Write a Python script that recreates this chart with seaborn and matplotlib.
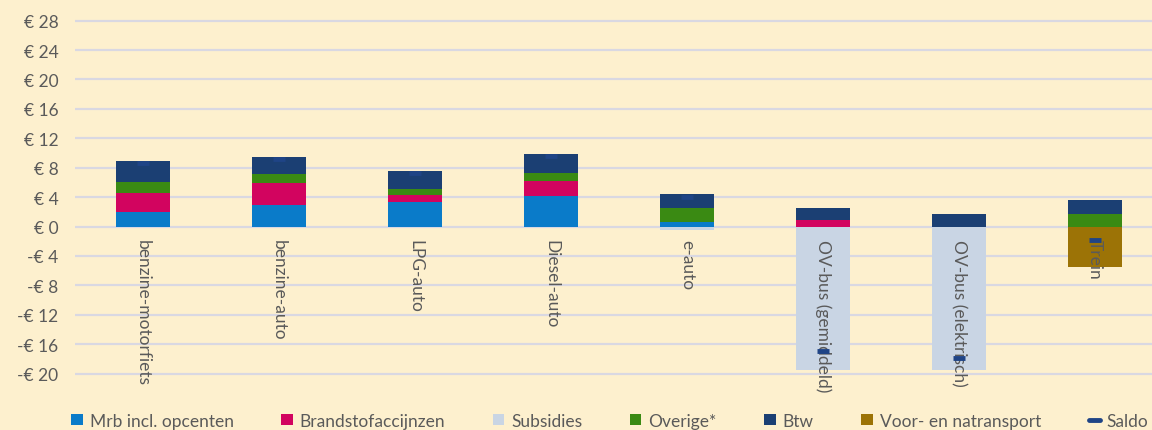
import numpy as np
import pandas as pd
import seaborn as sns
import matplotlib
matplotlib.use("Agg")
import matplotlib.pyplot as plt
from matplotlib.patches import Patch
from matplotlib.lines import Line2D

# Kosten en opbrengsten per 100 km (euro), per vervoerwijze
categories = ["benzine-motorfiets", "benzine-auto", "LPG-auto", "Diesel-auto",
              "e-auto", "OV-bus (gemiddeld)", "OV-bus (elektrisch)", "Trein"]
mrb = [2.0, 2.9, 3.4, 4.1, 0.55, 0.0, 0.0, 0.0]
brandstofaccijnzen = [2.6, 3.0, 0.85, 2.1, 0.0, 0.85, 0.0, 0.0]
subsidies = [0.0, 0.0, 0.0, 0.0, -0.45, -19.5, -19.5, 0.0]
overige = [1.4, 1.2, 0.85, 1.05, 1.95, 0.0, 0.0, 1.65]
btw = [2.9, 2.4, 2.4, 2.6, 1.9, 1.65, 1.65, 1.9]
voor_natransport = [0.0, 0.0, 0.0, 0.0, 0.0, 0.0, 0.0, -5.45]
saldo = [8.6, 9.2, 7.25, 9.55, 3.95, -17.0, -17.85, -1.9]

yticks = list(range(-20, 29, 4))

series = [
    ("Mrb incl. opcenten", mrb, "#0A7BC9"),
    ("Brandstofaccijnzen", brandstofaccijnzen, "#D2045F"),
    ("Subsidies", subsidies, "#C9D5E4"),
    ("Overige*", overige, "#3A8A13"),
    ("Btw", btw, "#1B3F73"),
    ("Voor- en natransport", voor_natransport, "#9C7306"),
]
saldo_color = "#1F4486"

bg = "#FDF0CE"
grid_color = "#D9D8E2"
text_color = "#5A5A5A"

sns.set_theme(style="white")
plt.rcParams["font.family"] = ["Lato", "DejaVu Sans"]

fig = plt.figure(figsize=(11.52, 4.31), dpi=100, facecolor=bg)
ax = fig.add_axes([75 / 1152, 0.1225, 1 - 75 / 1152, 0.8357])
ax.set_facecolor(bg)

# Gestapelde staven: positieve delen omhoog, negatieve delen omlaag
pos_base = np.zeros(len(categories))
neg_base = np.zeros(len(categories))
for name, vals, color in series:
    vals = np.asarray(vals, dtype=float)
    bottoms = np.where(vals >= 0, pos_base, neg_base)
    sns.barplot(x=categories, y=vals, bottom=bottoms, color=color,
                width=0.4, errorbar=None, saturation=1, linewidth=0,
                ax=ax, zorder=2)
    pos_base += np.where(vals > 0, vals, 0)
    neg_base += np.where(vals < 0, vals, 0)

# Saldo als streepje
sns.pointplot(x=categories, y=saldo, linestyle="none", marker="_",
              markersize=9, markeredgewidth=3.5, color=saldo_color,
              errorbar=None, ax=ax, zorder=5)

ax.set_xlim(-0.5, 7.419)
ax.set_ylim(-20.5, 28.5)
ax.set_yticks(yticks)
ax.set_yticklabels([f"€ {v}" if v >= 0 else f"-€ {abs(v)}" for v in yticks],
                   color=text_color, fontsize=12.5)
ax.tick_params(axis="y", length=0, pad=12)
ax.set_xticks([])
ax.set_xlabel("")
ax.set_ylabel("")
for s in ax.spines.values():
    s.set_visible(False)
for v in yticks:
    ax.axhline(v, color=grid_color, lw=1.6, zorder=1)

# Categorielabels verticaal onder de nullijn
for i, cat in enumerate(categories):
    ax.text(i, -1.7, cat, rotation=-90, ha="center", va="top",
            color=text_color, fontsize=12.5, zorder=4)

handles = [Patch(facecolor=c, edgecolor="none", label=n) for n, _, c in series]
handles.append(Line2D([], [], color=saldo_color, lw=3.5, label="Saldo"))
fig.legend(handles=handles, loc="lower left", ncol=7, mode="expand",
           bbox_to_anchor=(0.056, -0.013, 0.947, 0.07), frameon=False,
           fontsize=12.5, handlelength=0.65, handleheight=0.65,
           handletextpad=0.4, borderaxespad=0, labelcolor=text_color)

fig.savefig("out.png", dpi=100, facecolor=bg)
